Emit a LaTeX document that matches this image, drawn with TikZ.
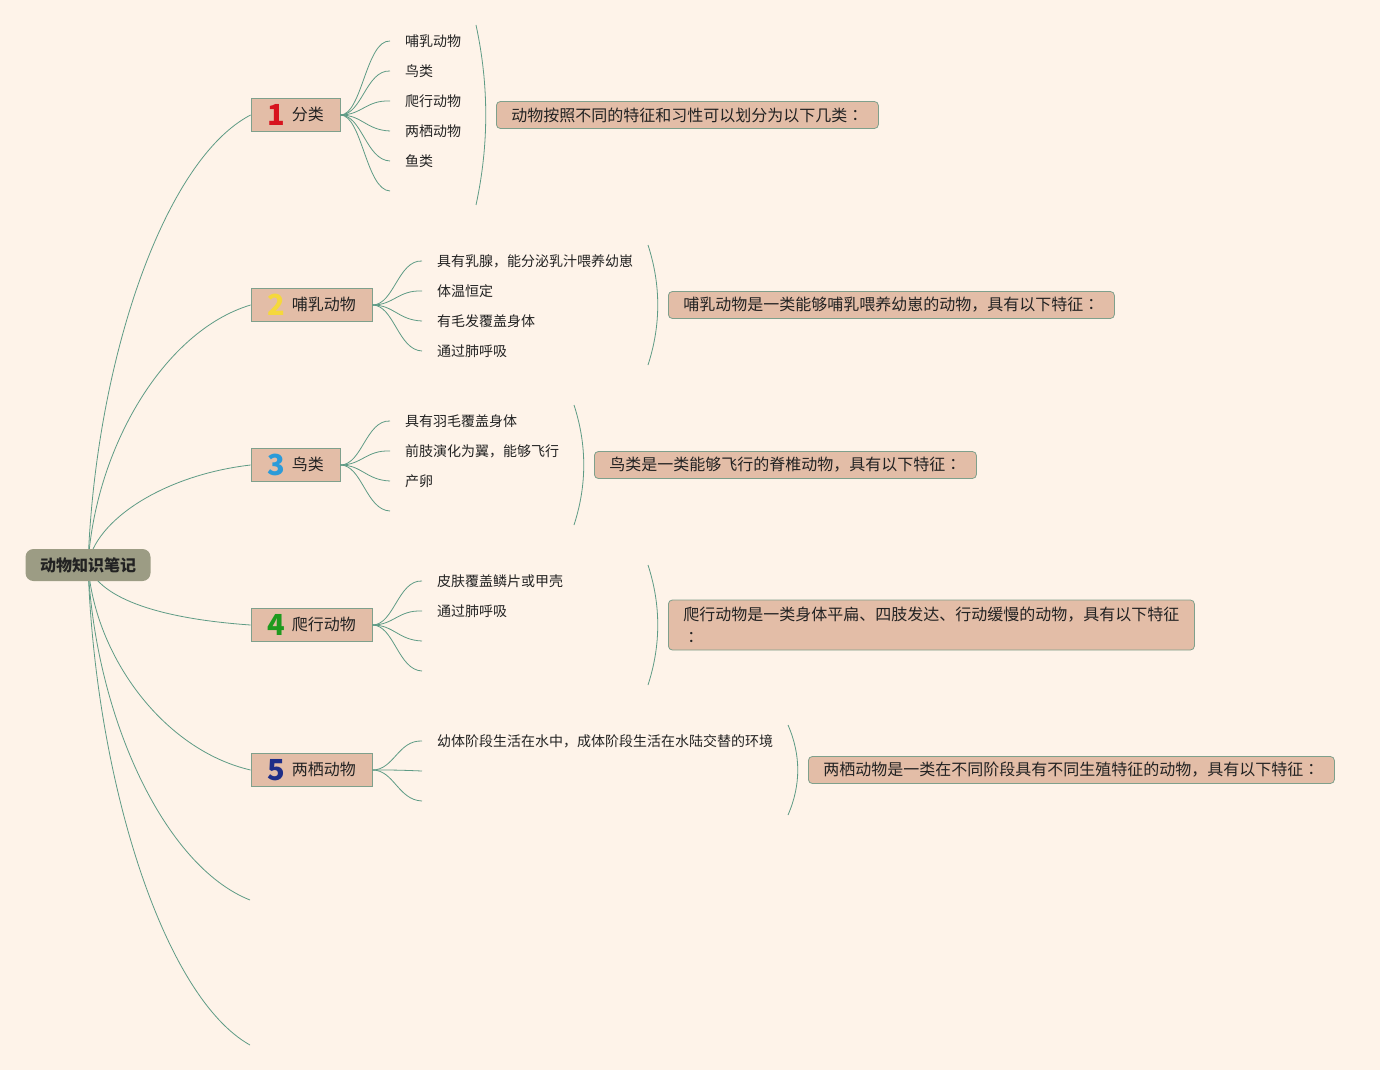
\documentclass[tikz,border=0pt]{standalone}
\usepackage{fontspec}
\setmainfont{Noto Sans CJK SC}
\newfontfamily\colonfont{Noto Sans CJK TC}
\usetikzlibrary{backgrounds}
\definecolor{paper}{HTML}{FEF3E9}
\definecolor{stem}{HTML}{5E9B85}
\definecolor{tan}{HTML}{E3BDA7}
\definecolor{rim}{HTML}{7FA08C}
\definecolor{olive}{HTML}{9C9C84}
\definecolor{ink}{HTML}{222222}
\definecolor{numred}{HTML}{D7141F}
\definecolor{numyellow}{HTML}{F5D83C}
\definecolor{numblue}{HTML}{2B9BD9}
\definecolor{numgreen}{HTML}{1E9A1E}
\definecolor{numnavy}{HTML}{1F2E88}
\newcommand{\badge}[2]{\raisebox{-5pt}{\fontsize{29}{29}\selectfont\bfseries\color{#1}#2}\hspace{7pt}}
\newcommand{\fwcolon}{{\colonfont ：}}

\begin{document}
\begin{tikzpicture}[x=1pt, y=-1pt,
  root/.style = {fill=olive, rounded corners=8pt, minimum width=125pt, minimum height=32pt,
                 inner sep=0pt, font=\fontsize{16}{16}\selectfont\bfseries},
  topic/.style = {fill=tan, draw=rim, line width=0.8pt, minimum height=33pt, inner sep=0pt,
                  font=\fontsize{16}{16}\selectfont},
  leaf/.style = {anchor=west, inner sep=0pt, font=\fontsize{14}{14}\selectfont},
  summary/.style = {fill=tan, draw=rim, line width=0.8pt, rounded corners=4pt, anchor=west,
                    minimum height=27pt, inner xsep=15pt, inner ysep=0pt, align=left,
                    font=\fontsize{16}{23}\selectfont},
  stemline/.style = {draw=stem, line width=0.8pt},
  every node/.style = {text=ink},
  ]
  \node[root] (root) at (88,565) {动物知识笔记};

  \node[topic, minimum width=89pt] (cls) at (295.5,115) {\badge{numred}{1}分类};
  \node[topic, minimum width=121pt] (mam) at (311.5,305) {\badge{numyellow}{2}哺乳动物};
  \node[topic, minimum width=89pt] (bird) at (295.5,465) {\badge{numblue}{3}鸟类};
  \node[topic, minimum width=121pt] (rep) at (311.5,625) {\badge{numgreen}{4}爬行动物};
  \node[topic, minimum width=121pt] (amp) at (311.5,770) {\badge{numnavy}{5}两栖动物};
  \coordinate (loose1) at (250,900);
  \coordinate (loose2) at (250,1045);

  % 1 分类
  \node[leaf] (cls1) at (405,41) {哺乳动物};
  \node[leaf] (cls2) at (405,71) {鸟类};
  \node[leaf] (cls3) at (405,101) {爬行动物};
  \node[leaf] (cls4) at (405,131) {两栖动物};
  \node[leaf] (cls5) at (405,161) {鱼类};
  \coordinate (cls6) at (405,191);
  \draw[stemline] (cls.east) .. controls (362,115) and (366,40) .. ([xshift=-15pt]cls1.west);
  \draw[stemline] (cls.east) .. controls (362,115) and (366,70) .. ([xshift=-15pt]cls2.west);
  \draw[stemline] (cls.east) .. controls (362,115) and (366,100) .. ([xshift=-15pt]cls3.west);
  \draw[stemline] (cls.east) .. controls (362,115) and (366,130) .. ([xshift=-15pt]cls4.west);
  \draw[stemline] (cls.east) .. controls (362,115) and (366,160) .. ([xshift=-15pt]cls5.west);
  \draw[stemline] (cls.east) .. controls (362,115) and (366,190) .. ([xshift=-15pt]cls6);
  \draw[stemline] (476,25) .. controls (489,85) and (489,145) .. (476,205);
  \node[summary] (clsnote) at (496,115) {动物按照不同的特征和习性可以划分为以下几类\fwcolon};

  % 2 哺乳动物
  \node[leaf] (mam1) at (437,261) {具有乳腺，能分泌乳汁喂养幼崽};
  \node[leaf] (mam2) at (437,291) {体温恒定};
  \node[leaf] (mam3) at (437,321) {有毛发覆盖身体};
  \node[leaf] (mam4) at (437,351) {通过肺呼吸};
  \draw[stemline] (mam.east) .. controls (394,305) and (398,260) .. ([xshift=-15pt]mam1.west);
  \draw[stemline] (mam.east) .. controls (394,305) and (398,290) .. ([xshift=-15pt]mam2.west);
  \draw[stemline] (mam.east) .. controls (394,305) and (398,320) .. ([xshift=-15pt]mam3.west);
  \draw[stemline] (mam.east) .. controls (394,305) and (398,350) .. ([xshift=-15pt]mam4.west);
  \draw[stemline] (648,245) .. controls (661,285) and (661,325) .. (648,365);
  \node[summary] (mamnote) at (668,305) {哺乳动物是一类能够哺乳喂养幼崽的动物，具有以下特征\fwcolon};

  % 3 鸟类
  \node[leaf] (bird1) at (405,421) {具有羽毛覆盖身体};
  \node[leaf] (bird2) at (405,451) {前肢演化为翼，能够飞行};
  \node[leaf] (bird3) at (405,481) {产卵};
  \coordinate (bird4) at (405,511);
  \draw[stemline] (bird.east) .. controls (362,465) and (366,420) .. ([xshift=-15pt]bird1.west);
  \draw[stemline] (bird.east) .. controls (362,465) and (366,450) .. ([xshift=-15pt]bird2.west);
  \draw[stemline] (bird.east) .. controls (362,465) and (366,480) .. ([xshift=-15pt]bird3.west);
  \draw[stemline] (bird.east) .. controls (362,465) and (366,510) .. ([xshift=-15pt]bird4);
  \draw[stemline] (574,405) .. controls (587,445) and (587,485) .. (574,525);
  \node[summary] (birdnote) at (594,465) {鸟类是一类能够飞行的脊椎动物，具有以下特征\fwcolon};

  % 4 爬行动物
  \node[leaf] (rep1) at (437,581) {皮肤覆盖鳞片或甲壳};
  \node[leaf] (rep2) at (437,611) {通过肺呼吸};
  \coordinate (rep3) at (437,641);
  \coordinate (rep4) at (437,671);
  \draw[stemline] (rep.east) .. controls (394,625) and (398,580) .. ([xshift=-15pt]rep1.west);
  \draw[stemline] (rep.east) .. controls (394,625) and (398,610) .. ([xshift=-15pt]rep2.west);
  \draw[stemline] (rep.east) .. controls (394,625) and (398,640) .. ([xshift=-15pt]rep3);
  \draw[stemline] (rep.east) .. controls (394,625) and (398,670) .. ([xshift=-15pt]rep4);
  \draw[stemline] (648,565) .. controls (661,605) and (661,645) .. (648,685);
  \node[summary, minimum height=50pt] (repnote) at (668,625)
    {爬行动物是一类身体平扁、四肢发达、行动缓慢的动物，具有以下特征\\\fwcolon};

  % 5 两栖动物
  \node[leaf] (amp1) at (437,741) {幼体阶段生活在水中，成体阶段生活在水陆交替的环境};
  \coordinate (amp2) at (437,771);
  \coordinate (amp3) at (437,801);
  \draw[stemline] (amp.east) .. controls (394,770) and (398,740) .. ([xshift=-15pt]amp1.west);
  \draw[stemline] (amp.east) .. controls (394,770) and (398,770) .. ([xshift=-15pt]amp2);
  \draw[stemline] (amp.east) .. controls (394,770) and (398,800) .. ([xshift=-15pt]amp3);
  \draw[stemline] (788,725) .. controls (801,755) and (801,785) .. (788,815);
  \node[summary] (ampnote) at (808,770) {两栖动物是一类在不同阶段具有不同生殖特征的动物，具有以下特征\fwcolon};

  \begin{scope}[on background layer]
    \fill[paper] (0,0) rectangle (1380,1070);
    \draw[stemline] (root.center) .. controls (95,362) and (164,160) .. (cls.west);
    \draw[stemline] (root.center) .. controls (95,448) and (164,331) .. (mam.west);
    \draw[stemline] (root.center) .. controls (95,520) and (164,475) .. (bird.west);
    \draw[stemline] (root.center) .. controls (100,600) and (164,619) .. (rep.west);
    \draw[stemline] (root.center) .. controls (95,657) and (164,750) .. (amp.west);
    \draw[stemline] (root.center) .. controls (95,716) and (164,866) .. (loose1);
    \draw[stemline] (root.center) .. controls (95,781) and (164,997) .. (loose2);
  \end{scope}
\end{tikzpicture}
\end{document}
